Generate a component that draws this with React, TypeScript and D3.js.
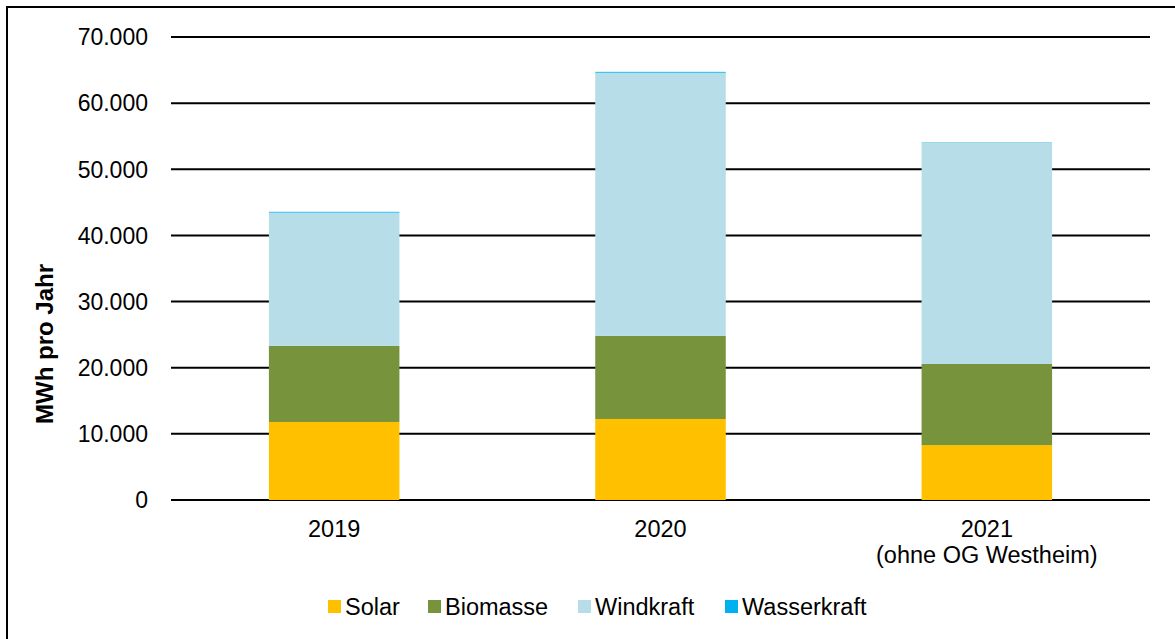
import React from "react";
import * as d3 from "d3";

const categories = ["2019", "2020", "2021"];
const categoryLabels = [["2019"], ["2020"], ["2021", "(ohne OG Westheim)"]];
const seriesNames = ["Solar", "Biomasse", "Windkraft", "Wasserkraft"];
const solar = [11800, 12250, 8300];
const biomasse = [11500, 12550, 12260];
const windkraft = [20150, 39800, 33520];
const wasserkraft = [120, 130, 40];
const colors = ["#FFC000", "#77933C", "#B7DEE8", "#00B0F0"];
const yTicks = [0, 10000, 20000, 30000, 40000, 50000, 60000, 70000];

const W = 1175;
const H = 639;
const FONT = "'Liberation Sans', Arial, sans-serif";

export default function App() {
  const x = d3.scaleBand<string>().domain(categories).range([171, 1150]).paddingInner(0.6).paddingOuter(0.3);
  const y = d3.scaleLinear().domain([0, 70000]).range([500, 37]);
  const fmt = (v: number) => d3.format(",")(v).replace(/,/g, ".");

  const rows = categories.map((c, i) => ({
    cat: c,
    Solar: solar[i],
    Biomasse: biomasse[i],
    Windkraft: windkraft[i],
    Wasserkraft: wasserkraft[i],
  }));
  const stacked = d3.stack<any>().keys(seriesNames)(rows);

  const legendX = [328, 428, 578, 725];

  return (
    <div style={{ position: "absolute", left: 0, top: 0 }}>
      <svg width={W} height={H} style={{ display: "block", fontFamily: FONT }}>
        <rect x={0} y={0} width={W} height={H} fill="#fff" />
        <rect x={7} y={7} width={W + 20} height={H + 20} fill="none" stroke="#000" strokeWidth={2} />
        {yTicks.map((t) => (
          <g key={t}>
            <line x1={171} x2={1150} y1={y(t)} y2={y(t)} stroke="#000" strokeWidth={2} />
            <text x={148} y={y(t)} dy="0.36em" textAnchor="end" fontSize={23} fill="#000">
              {fmt(t)}
            </text>
          </g>
        ))}
        {stacked.map((s, si) => (
          <g key={s.key} fill={colors[si]}>
            {s.map((d, i) => (
              <rect
                key={i}
                x={x(categories[i])!}
                width={x.bandwidth()}
                y={y(d[1])}
                height={y(d[0]) - y(d[1])}
              />
            ))}
          </g>
        ))}
        {categoryLabels.map((lines, i) => (
          <text
            key={i}
            x={x(categories[i])! + x.bandwidth() / 2}
            y={537}
            textAnchor="middle"
            fontSize={23.5}
            fill="#000"
          >
            {lines.map((l, li) => (
              <tspan key={li} x={x(categories[i])! + x.bandwidth() / 2} dy={li === 0 ? 0 : 26}>
                {l}
              </tspan>
            ))}
          </text>
        ))}
        <text
          transform={`translate(53,344) rotate(-90)`}
          textAnchor="middle"
          fontSize={24}
          fontWeight="bold"
          fill="#000"
        >
          MWh pro Jahr
        </text>
        {seriesNames.map((n, i) => (
          <g key={n}>
            <rect x={legendX[i]} y={600} width={13} height={13} fill={colors[i]} />
            <text x={legendX[i] + 17} y={615} fontSize={23.5} fill="#000">
              {n}
            </text>
          </g>
        ))}
      </svg>
    </div>
  );
}
